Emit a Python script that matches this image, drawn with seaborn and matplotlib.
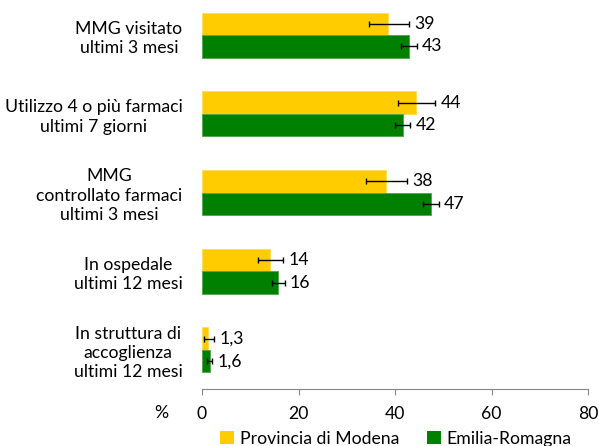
import numpy as np
import pandas as pd
import matplotlib
matplotlib.use("Agg")
import matplotlib.pyplot as plt
from matplotlib.patches import Patch
import seaborn as sns

# dati
categories = [
    "MMG visitato\nultimi 3 mesi",
    "Utilizzo 4 o più farmaci\nultimi 7 giorni",
    "MMG\ncontrollato farmaci\nultimi 3 mesi",
    "In ospedale\nultimi 12 mesi",
    "In struttura di\naccoglienza\nultimi 12 mesi",
]
series = ["Provincia di Modena", "Emilia-Romagna"]

modena = [38.6, 44.4, 38.1, 14.0, 1.3]
modena_lo = [34.7, 40.7, 33.9, 11.6, 0.5]
modena_hi = [42.8, 48.3, 42.4, 16.8, 2.5]
modena_labels = ["39", "44", "38", "14", "1,3"]

er = [42.8, 41.6, 47.4, 15.8, 1.6]
er_lo = [41.2, 40.1, 45.7, 14.6, 1.1]
er_hi = [44.5, 43.1, 49.1, 17.1, 2.1]
er_labels = ["43", "42", "47", "16", "1,6"]

xticks = [0, 20, 40, 60, 80]
colors = ["#FFCC00", "#008000"]
edges = ["#FFDD55", "#4CA64C"]

FS = 12.7
plt.rcParams["font.family"] = ["Lato", "DejaVu Sans"]
plt.rcParams["font.size"] = FS

df = pd.DataFrame({
    "cat": categories * 2,
    "val": modena + er,
    "serie": [series[0]] * 5 + [series[1]] * 5,
})

fig = plt.figure(figsize=(5.99, 4.46), dpi=100)
ax = fig.add_axes([202 / 599, (446 - 389.3) / 446, 386 / 599, 388 / 446])

sns.barplot(data=df, y="cat", x="val", hue="serie", hue_order=series,
            palette=colors, saturation=1, orient="h", width=0.572,
            errorbar=None, legend=False, ax=ax)

groups = [(modena, modena_lo, modena_hi, modena_labels),
          (er, er_lo, er_hi, er_labels)]
for cont, (vals, lo, hi, labs), ec in zip(ax.containers, groups, edges):
    ys = []
    for bar in cont:
        bar.set_edgecolor(ec)
        bar.set_linewidth(0.6)
        ys.append(bar.get_y() + bar.get_height() / 2)
    v = np.array(vals)
    ax.errorbar(v, ys, xerr=[v - np.array(lo), np.array(hi) - v], fmt="none",
                ecolor="black", elinewidth=1, capsize=2.3, capthick=1)
    for y, h, t in zip(ys, hi, labs):
        ax.text(h + 1.1, y, t, va="center", ha="left", fontsize=FS)

ax.set_xlim(0, 80)
ax.set_ylim(4.5, -0.43)
ax.set_xticks(xticks)
ax.set_xticklabels([str(t) for t in xticks])
ax.set_yticks(range(len(categories)))
ax.set_yticklabels(categories, multialignment="center", linespacing=1.25)
ax.set_xlabel("")
ax.set_ylabel("")

for s in ["top", "right", "left"]:
    ax.spines[s].set_visible(False)
ax.spines["bottom"].set_color("#868686")
ax.tick_params(axis="x", direction="out", length=4, color="#868686", pad=8)
ax.tick_params(axis="y", length=0, pad=14)

fig.text(161.7 / 599, 1 - 413 / 446, "%", ha="center", va="center", fontsize=FS)

handles = [Patch(facecolor=c) for c in colors]
ax.legend(handles, series, loc="center", ncol=2, frameon=False,
          bbox_to_anchor=(396 / 599, 1 - 439 / 446), bbox_transform=fig.transFigure,
          handlelength=0.75, handleheight=0.75, handletextpad=0.35,
          columnspacing=1.6, fontsize=FS)

fig.savefig("out.png", dpi=100)
